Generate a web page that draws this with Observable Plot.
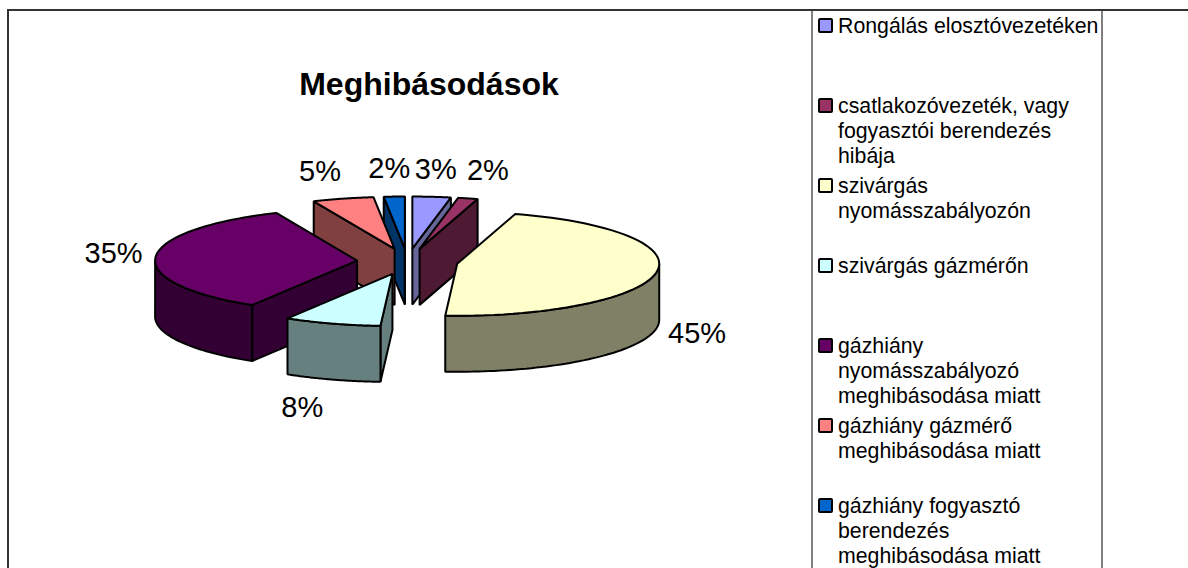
<!DOCTYPE html>
<html lang="hu">
<head>
<meta charset="utf-8">
<title>Meghibásodások</title>
<script src="https://cdn.jsdelivr.net/npm/d3@7"></script>
<script src="https://cdn.jsdelivr.net/npm/@observablehq/plot@0.6"></script>
<style>
  html, body { margin: 0; padding: 0; background: #fff; }
  #page { position: relative; width: 1188px; height: 568px; overflow: hidden; font-family: "Liberation Sans", Arial, sans-serif; color: #000; }
  #chart { position: absolute; left: 0; top: 0; }
  .rule { position: absolute; }
  #title { position: absolute; left: 229px; width: 400px; top: 67px; text-align: center; font-weight: bold; font-size: 32px; line-height: 34px; }
  .entry { position: absolute; left: 838px; width: 264px; font-size: 21.3px; line-height: 25px; white-space: pre-line; }
  .swatch { position: absolute; left: 818px; width: 11px; height: 11px; border: 2px solid #000; border-radius: 2px; }
</style>
</head>
<body>
<div id="page"></div>
<script>
// Data
const categories = [
  "Rongálás elosztóvezetéken",
  "csatlakozóvezeték, vagy\nfogyasztói berendezés\nhibája",
  "szivárgás\nnyomásszabályozón",
  "szivárgás gázmérőn",
  "gázhiány\nnyomásszabályozó\nmeghibásodása miatt",
  "gázhiány gázmérő\nmeghibásodása miatt",
  "gázhiány fogyasztó\nberendezés\nmeghibásodása miatt"
];
const values = [3, 2, 45, 8, 35, 5, 2];
const topColors = ["#9999FF", "#993366", "#FFFFCC", "#CCFFFF", "#660066", "#FF8080", "#0066CC"];
const wallColors = ["#666699", "#4D1933", "#808066", "#668080", "#330033", "#804040", "#003366"];

// Layout of the 3-D pie
const center = [407, 261];
const radiusX = 202, radiusY = 52, depth = 56, explode = 0.25;
// Small apparent-angle shift at each slice boundary (degrees), from the 3-D view of the reference
const viewShiftDeg = [0, 0.2, -1.3, 3.4, 2.5, 1.6, 1.2, 0];
const paintOrder = [0, 1, 6, 5, 4, 2, 3];
const labelShift = [[4, -27], [20, -28], [41, 61], [-30, 84], [-42, -3], [-23, -27], [-5, -28]];
const legendTops = [13.5, 94, 174, 253.5, 334, 414, 494];

// Slice angles come from d3.pie over the values
const rad = Math.PI / 180;
const arcs = d3.pie().sort(null).value(d => d)(values);

function ring(theta, r, tip) {
  return [tip[0] + r * radiusX * Math.sin(theta), tip[1] - r * radiusY * Math.cos(theta)];
}
const startOf = i => arcs[i].startAngle + viewShiftDeg[i] * rad;
const endOf = i => arcs[i].endAngle + viewShiftDeg[i + 1] * rad;

const polys = [];
const labelRows = [];
for (const i of paintOrder) {
  const a0 = startOf(i);
  const a1 = endOf(i);
  const mid = (a0 + a1) / 2;
  const tip = ring(mid, explode, center);
  const add = (key, pts, fill) => {
    for (const [x, y] of pts) polys.push({ key: i + key, x, y, fill });
  };
  const wall = (p, q) => [p, q, [q[0], q[1] + depth], [p[0], p[1] + depth]];

  // radial faces that turn toward the viewer
  if (Math.sin(a0) < 0) add("-start", wall(tip, ring(a0, 1, tip)), wallColors[i]);
  if (Math.sin(a1) > 0) add("-end", wall(tip, ring(a1, 1, tip)), wallColors[i]);

  // outer rim, front half only
  const from = Math.max(a0, Math.PI / 2);
  const to = Math.min(a1, 1.5 * Math.PI);
  if (to > from) {
    const steps = d3.range(0, 61).map(k => from + (to - from) * k / 60);
    const upper = steps.map(t => ring(t, 1, tip));
    const lower = upper.map(([x, y]) => [x, y + depth]).reverse();
    add("-rim", upper.concat(lower), wallColors[i]);
  }

  // top face
  const steps = d3.range(0, 61).map(k => a0 + (a1 - a0) * k / 60);
  add("-top", [tip].concat(steps.map(t => ring(t, 1, tip))), topColors[i]);
}

arcs.forEach((a, i) => {
  const mid = (startOf(i) + endOf(i)) / 2;
  const tip = ring(mid, explode, center);
  const [x, y] = ring(mid, 1, tip);
  labelRows.push({ x: x + labelShift[i][0], y: y + labelShift[i][1], text: values[i] + "%" });
});

const W = 1188, H = 568;
const plot = Plot.plot({
  width: W, height: H,
  margin: 0,
  style: { background: "transparent", fontFamily: "'Liberation Sans', Arial, sans-serif" },
  x: { domain: [0, W], range: [0, W], axis: null },
  y: { domain: [0, H], range: [0, H], axis: null },
  color: { type: "identity" },
  marks: [
    Plot.line(polys, {
      x: "x", y: "y", z: "key", fill: "fill",
      stroke: "#000", strokeWidth: 2, strokeLinejoin: "miter",
      curve: "linear-closed"
    }),
    Plot.text(labelRows, {
      x: "x", y: "y", text: "text", fontSize: 29, fill: "#000", textAnchor: "middle", lineAnchor: "middle"
    })
  ]
});
plot.id = "chart";

const page = document.getElementById("page");
page.appendChild(plot);

function el(cls, css, text) {
  const d = document.createElement("div");
  d.className = cls;
  Object.assign(d.style, css);
  if (text != null) d.textContent = text;
  page.appendChild(d);
  return d;
}
// sheet grid behind the chart
el("rule", { left: "7px", top: "9px", width: "1181px", height: "2px", background: "#333" });
el("rule", { left: "7px", top: "9px", width: "2px", height: "559px", background: "#333" });
el("rule", { left: "811px", top: "11px", width: "2px", height: "557px", background: "#808080" });
el("rule", { left: "1101px", top: "11px", width: "2px", height: "557px", background: "#808080" });

const title = el("", {}, "Meghibásodások");
title.id = "title";

categories.forEach((c, i) => {
  el("entry", { top: legendTops[i] + "px" }, c);
  el("swatch", { top: (legendTops[i] + 4) + "px", background: topColors[i] });
});
</script>
</body>
</html>
